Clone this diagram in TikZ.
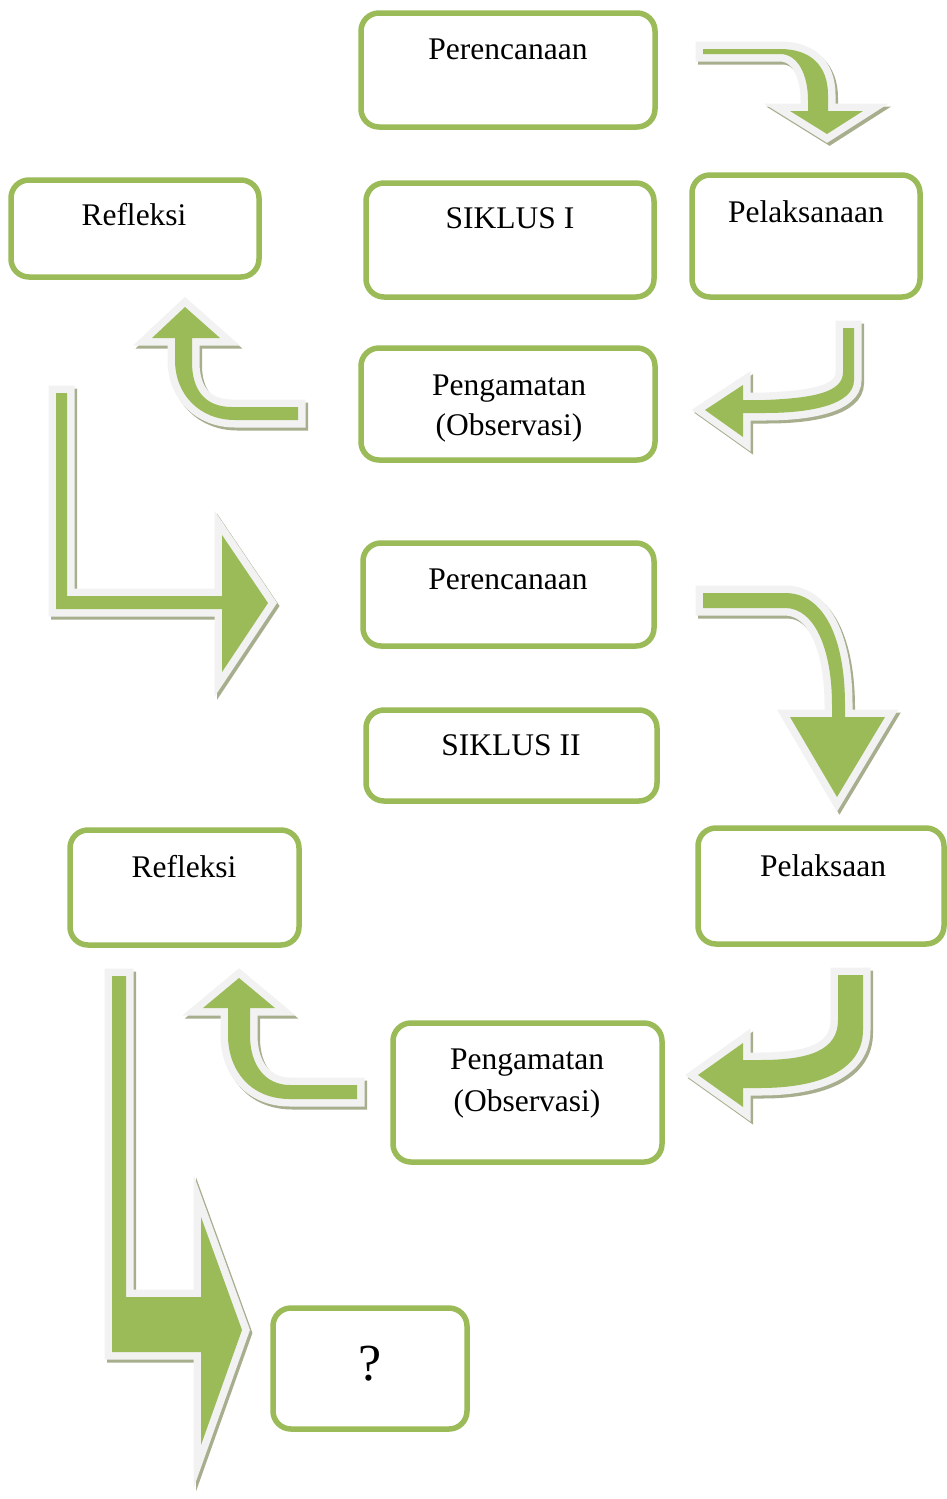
\documentclass[tikz,border=0pt]{standalone}
\usepackage{fontspec}
\setmainfont{Liberation Serif}
\definecolor{boxgreen}{HTML}{9BBB59}
\definecolor{arrgreen}{HTML}{9BBB59}
\definecolor{arrline}{HTML}{F2F2F2}
\definecolor{arrshadow}{RGB}{166,174,142}
\tikzset{
  box/.style={draw=boxgreen, line width=5.5, rounded corners=18, inner sep=0, outer sep=0},
  lbl/.style={anchor=base, inner sep=0, font=\fontsize{31.5}{38}\selectfont},
  arrA/.style={insert path={(703,49) -- (780,49) .. controls (810,49) and (828,65) .. (828,95) -- (828,111) -- (863,111) -- (827,134) -- (790,111) -- (808,111) -- (808,100) .. controls (808,75) and (798,54) .. (780,54) -- (703,54) -- cycle}},
  arrB/.style={insert path={(843,328) -- (854,328) -- (854,380) .. controls (854,405) and (810,413) .. (765,413) -- (743,413) -- (743,437) -- (705,410) -- (743,385) -- (743,400) -- (765,400) .. controls (815,398) and (843,392) .. (843,372) -- cycle}},
  arrC/.style={insert path={(298,407) -- (298,420) -- (235,420) .. controls (200,420) and (175,395) .. (175,360) -- (175,338) -- (152,338) -- (185,307) -- (220,338) -- (192,338) -- (192,362) .. controls (192,390) and (205,407) .. (232,407) -- cycle}},
  arrD/.style={insert path={(56,393) -- (67,393) -- (67,596) -- (222,596) -- (222,535) -- (268,603) -- (222,672) -- (222,609) -- (56,609) -- cycle}},
  arrE/.style={insert path={(703,593) -- (785,593) .. controls (825,593) and (845,640) .. (845,705) -- (845,717) -- (885,717) -- (837,797) -- (790,717) -- (832,717) -- (832,705) .. controls (832,650) and (815,608) .. (785,608) -- (703,608) -- cycle}},
  arrF/.style={insert path={(838,975) -- (863,975) -- (863,1030) .. controls (863,1070) and (820,1088) .. (760,1088) -- (743,1088) -- (743,1107) -- (698,1075) -- (743,1043) -- (743,1060) -- (760,1060) .. controls (810,1060) and (838,1050) .. (838,1020) -- cycle}},
  arrG/.style={insert path={(357,1085) -- (357,1099) -- (290,1099) .. controls (250,1099) and (228,1070) .. (228,1035) -- (228,1008) -- (203,1008) -- (239,978) -- (275,1008) -- (250,1008) -- (250,1035) .. controls (250,1065) and (265,1085) .. (290,1085) -- cycle}},
  arrH/.style={insert path={(112,976) -- (126,976) -- (126,1297) -- (201,1297) -- (201,1217) -- (242,1330) -- (201,1445) -- (201,1352) -- (112,1352) -- cycle}},
}
\newcommand{\blockarrow}[1]{%
  \begin{scope}[shift={(2.5,3)}]
    \path[fill=arrshadow, draw=arrshadow, line width=15, line join=miter, miter limit=7, #1];
  \end{scope}
  \path[fill=arrline, draw=arrline, line width=15, line join=miter, miter limit=7, #1];
  \path[fill=arrgreen, #1];
}
\begin{document}
\begin{tikzpicture}[x=1pt, y=-1pt]
\useasboundingbox (0,0) rectangle (947,1499);
% arrows
\blockarrow{arrA}
\blockarrow{arrB}
\blockarrow{arrC}
\blockarrow{arrD}
\blockarrow{arrE}
\blockarrow{arrF}
\blockarrow{arrG}
\blockarrow{arrH}
% boxes
\node[box, minimum width=294, minimum height=114] (b1) at (508,70) {};
\node[box, minimum width=248, minimum height=97] (b2) at (135,228.5) {};
\node[box, minimum width=288, minimum height=114] (b3) at (510,240) {};
\node[box, minimum width=228, minimum height=122] (b4) at (806,236) {};
\node[box, minimum width=294, minimum height=112] (b5) at (508,404) {};
\node[box, minimum width=291, minimum height=103] (b6) at (508.5,594.5) {};
\node[box, minimum width=291, minimum height=91] (b7) at (511.5,755.5) {};
\node[box, minimum width=229, minimum height=115] (b8) at (184.5,887.5) {};
\node[box, minimum width=246, minimum height=116] (b9) at (821,886) {};
\node[box, minimum width=269, minimum height=139] (b10) at (527.5,1092.5) {};
\node[box, minimum width=194, minimum height=121] (b11) at (370,1368.5) {};
% labels
\node[lbl] (t1) at (508,59) {Perencanaan};
\node[lbl] (t2) at (134,225) {Refleksi};
\node[lbl] (t3) at (510,228) {SIKLUS I};
\node[lbl] (t4) at (806,222) {Pelaksanaan};
\node[lbl] (t5a) at (509,395) {Pengamatan};
\node[lbl] (t5b) at (509,435) {(Observasi)};
\node[lbl] (t6) at (508,589) {Perencanaan};
\node[lbl] (t7) at (511,755) {SIKLUS II};
\node[lbl] (t8) at (184,877) {Refleksi};
\node[lbl] (t9) at (823,876) {Pelaksaan};
\node[lbl] (t10a) at (527,1069) {Pengamatan};
\node[lbl] (t10b) at (527,1111) {(Observasi)};
\node[lbl, font=\fontsize{52}{60}\selectfont] (t11) at (370,1380) {?};
\end{tikzpicture}
\end{document}
